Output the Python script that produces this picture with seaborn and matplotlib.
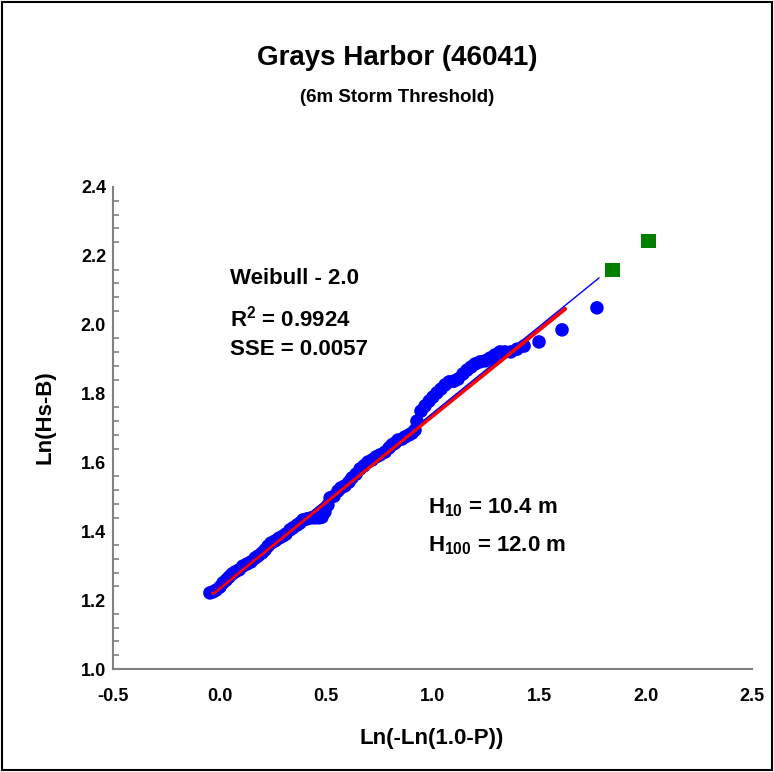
import numpy as np
import pandas as pd
import matplotlib
matplotlib.use("Agg")
import matplotlib.pyplot as plt
import seaborn as sns
from matplotlib.patches import Rectangle
from matplotlib.ticker import MultipleLocator

# observed storm peaks (reduced variate vs. ln(Hs-B))
obs_x = [-0.045, -0.031, -0.016, 0.002, 0.016, 0.031, 0.045, 0.059, 0.073, 0.092,
         0.110, 0.129, 0.148, 0.167, 0.181, 0.200, 0.214, 0.228, 0.242, 0.261,
         0.279, 0.298, 0.312, 0.331, 0.345, 0.364, 0.378, 0.392, 0.411, 0.430,
         0.448, 0.467, 0.481, 0.495, 0.509, 0.519, 0.538, 0.556, 0.570, 0.589,
         0.608, 0.622, 0.641, 0.660, 0.678, 0.697, 0.716, 0.735, 0.754, 0.777,
         0.796, 0.810, 0.824, 0.838, 0.857, 0.871, 0.890, 0.904, 0.918, 0.927,
         0.946, 0.965, 0.984, 1.002, 1.021, 1.040, 1.059, 1.078, 1.101, 1.120,
         1.143, 1.162, 1.181, 1.200, 1.223, 1.247, 1.270, 1.293, 1.317, 1.340,
         1.368, 1.397, 1.430, 1.500, 1.608, 1.772]
obs_y = [1.221, 1.224, 1.229, 1.238, 1.250, 1.258, 1.267, 1.276, 1.282, 1.288,
         1.299, 1.305, 1.311, 1.322, 1.328, 1.337, 1.346, 1.357, 1.366, 1.372,
         1.380, 1.386, 1.392, 1.404, 1.410, 1.418, 1.424, 1.433, 1.436, 1.439,
         1.439, 1.439, 1.441, 1.456, 1.476, 1.497, 1.502, 1.517, 1.526, 1.532,
         1.543, 1.555, 1.566, 1.581, 1.590, 1.601, 1.607, 1.616, 1.622, 1.630,
         1.642, 1.651, 1.656, 1.665, 1.668, 1.674, 1.680, 1.685, 1.694, 1.720,
         1.749, 1.764, 1.778, 1.790, 1.802, 1.813, 1.825, 1.834, 1.836, 1.842,
         1.857, 1.868, 1.877, 1.886, 1.892, 1.895, 1.903, 1.912, 1.921, 1.921,
         1.921, 1.929, 1.938, 1.950, 1.985, 2.049]

# return-period estimates (H10, H100)
rp_x = [1.843, 2.016]
rp_y = [2.159, 2.243]

# fitted lines
red_x = [-0.030, 1.622]
red_y = [1.221, 2.046]
blue_x = [-0.030, 1.782]
blue_y = [1.225, 2.136]

xticks = [-0.5, 0.0, 0.5, 1.0, 1.5, 2.0, 2.5]
yticks = [1.0, 1.2, 1.4, 1.6, 1.8, 2.0, 2.2, 2.4]

sns.set_theme(style="white")
plt.rcParams['font.family'] = ['Liberation Sans', 'DejaVu Sans']
plt.rcParams['font.weight'] = 'bold'
plt.rcParams['text.color'] = 'black'
plt.rcParams['xtick.color'] = 'black'
plt.rcParams['ytick.color'] = 'black'
plt.rcParams['mathtext.fontset'] = 'custom'
plt.rcParams['mathtext.rm'] = 'Liberation Sans:bold'
plt.rcParams['mathtext.it'] = 'Liberation Sans:bold'
plt.rcParams['mathtext.bf'] = 'Liberation Sans:bold'
plt.rcParams['mathtext.default'] = 'rm'

fig = plt.figure(figsize=(7.74, 7.72), dpi=100)
ax = fig.add_axes([0.146, 0.1334, 0.8256, 0.6244])

df_obs = pd.DataFrame({"x": obs_x, "y": obs_y})
df_rp = pd.DataFrame({"x": rp_x, "y": rp_y})

sns.scatterplot(data=df_obs, x="x", y="y", color="#0000ff", s=95, edgecolor="none", ax=ax, zorder=2)
sns.scatterplot(data=df_rp, x="x", y="y", color="#008000", marker="s", s=115, edgecolor="none", ax=ax, zorder=2)
ax.plot(red_x, red_y, color="#ff0000", lw=3, zorder=3)
ax.plot(blue_x, blue_y, color="#0000ff", lw=1, zorder=4)

ax.set_xlim(-0.5, 2.5)
ax.set_ylim(1.0, 2.4)
ax.set_xticks(xticks)
ax.set_yticks(yticks)
ax.set_xticklabels([f"{v:.1f}" for v in xticks], fontsize=13, fontweight="bold", color="black")
ax.set_yticklabels([f"{v:.1f}" for v in yticks], fontsize=13, fontweight="bold", color="black")
ax.yaxis.set_minor_locator(MultipleLocator(0.04))
ax.tick_params(axis="x", which="major", direction="out", length=6, width=1.2, color="#808080", pad=8)
ax.tick_params(axis="y", which="major", direction="inout", length=8, width=1.2, color="#808080", pad=1)
ax.tick_params(axis="y", which="minor", direction="in", length=4, width=1.2, color="#808080", left=True)

for side in ["top", "right"]:
    ax.spines[side].set_visible(False)
for side in ["left", "bottom"]:
    ax.spines[side].set_color("#808080")
    ax.spines[side].set_linewidth(1.5)
ax.grid(False)
ax.set_xlabel("")
ax.set_ylabel("")

fig.text(0.058, 0.46, "Ln(Hs-B)", rotation=90, ha="center", va="center", fontsize=16, fontweight="bold")
fig.text(0.558, 0.044, "Ln(-Ln(1.0-P))", ha="center", va="center", fontsize=16, fontweight="bold")

fig.text(0.5136, 0.925, "Grays Harbor (46041)", ha="center", va="center", fontsize=20, fontweight="bold")
fig.text(0.5136, 0.874, "(6m Storm Threshold)", ha="center", va="center", fontsize=13.5, fontweight="bold")

ax.text(0.183, 0.811, "Weibull - 2.0", transform=ax.transAxes, va="center", fontsize=16, fontweight="bold")
ax.text(0.183, 0.728, r"R$^2$ = 0.9924", transform=ax.transAxes, va="center", fontsize=16, fontweight="bold")
ax.text(0.183, 0.662, "SSE = 0.0057", transform=ax.transAxes, va="center", fontsize=16, fontweight="bold")
ax.text(0.493, 0.334, r"H$_{10}$ = 10.4 m", transform=ax.transAxes, va="center", fontsize=16, fontweight="bold")
ax.text(0.493, 0.255, r"H$_{100}$ = 12.0 m", transform=ax.transAxes, va="center", fontsize=16, fontweight="bold")

fig.patches.append(Rectangle((0.002, 0.002), 0.996, 0.996, transform=fig.transFigure,
                             fill=False, edgecolor="black", lw=1.5))

fig.savefig("out.png", dpi=100)
